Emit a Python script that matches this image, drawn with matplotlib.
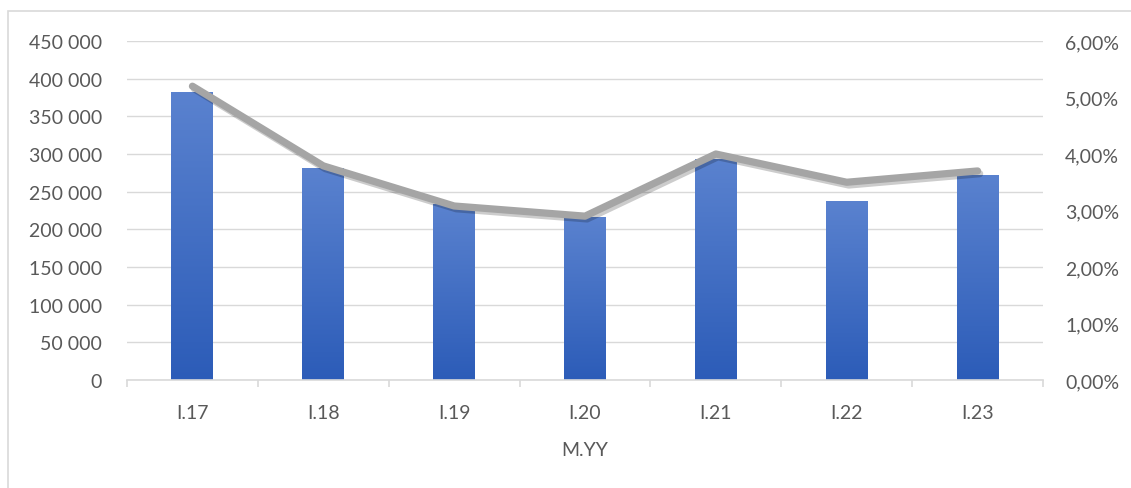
import matplotlib
matplotlib.use("Agg")
import matplotlib.pyplot as plt
import numpy as np
from matplotlib import patheffects as pe
from matplotlib.patches import Rectangle
from matplotlib.colors import LinearSegmentedColormap
from matplotlib.ticker import FuncFormatter, FixedLocator

categories = ["I.17", "I.18", "I.19", "I.20", "I.21", "I.22", "I.23"]
bar_values = [382000, 281000, 233000, 216000, 293000, 237000, 272000]
line_values = [0.0520, 0.0379, 0.0308, 0.0290, 0.0400, 0.0350, 0.0370]
left_ticks = [0, 50000, 100000, 150000, 200000, 250000, 300000, 350000, 400000, 450000]
right_ticks = [0, 0.01, 0.02, 0.03, 0.04, 0.05, 0.06]

plt.rcParams['font.family'] = ['Lato', 'DejaVu Sans']
txt = '#595959'
grid_c = '#d9d9d9'

W, H = 1131, 489
fig = plt.figure(figsize=(W/100, H/100), dpi=100)
ax = fig.add_axes([127/W, 1-381/H, (1043-127)/W, (381-42)/H])
ax2 = ax.twinx()

x = np.arange(len(categories))
bars = ax.bar(x, bar_values, width=0.32, color='#4472c4', zorder=2)
cmap = LinearSegmentedColormap.from_list('g', ['#2c5cb8', '#5a82cf'])
grad = np.linspace(0, 1, 256).reshape(-1, 1)
for b in bars:
    x0, y0 = b.get_x(), b.get_y()
    im = ax.imshow(grad, cmap=cmap, aspect='auto', origin='lower',
                   extent=[x0, x0 + b.get_width(), y0, y0 + b.get_height()], zorder=2)
    im.set_clip_path(b)

ax.set_xlim(-0.5, len(categories) - 0.5)
ax.set_ylim(0, 450000)
ax.yaxis.set_major_locator(FixedLocator(left_ticks))
ax.yaxis.set_major_formatter(FuncFormatter(lambda v, p: f"{int(v):,}".replace(",", " ")))
ax.grid(axis='y', color=grid_c, linewidth=1.0, zorder=0)
ax.set_axisbelow(True)
ax.set_xticks(x)
ax.set_xticklabels(categories)
ax.set_xticks(np.arange(-0.5, len(categories), 1.0), minor=True)
ax.tick_params(axis='x', which='major', length=0, pad=17, labelsize=14, labelcolor=txt)
ax.tick_params(axis='x', which='minor', length=5, color=grid_c, width=1.2)
ax.tick_params(axis='y', length=0, pad=18, labelsize=14, labelcolor=txt)
ax.set_xlabel("M.YY", fontsize=14, color=txt, labelpad=15)

for s in ['top', 'left', 'right']:
    ax.spines[s].set_visible(False)
    ax2.spines[s].set_visible(False)
ax.spines['bottom'].set_color(grid_c)
ax.spines['bottom'].set_linewidth(1.2)
ax2.spines['bottom'].set_visible(False)

ax2.set_ylim(0, 0.06)
ax2.yaxis.set_major_locator(FixedLocator(right_ticks))
ax2.yaxis.set_major_formatter(FuncFormatter(lambda v, p: f"{v*100:.2f}%".replace(".", ",")))
ax2.tick_params(axis='y', length=0, pad=16, labelsize=14, labelcolor=txt)
ax2.plot(x, line_values, color='#a5a5a5', linewidth=5.2, solid_capstyle='round',
         solid_joinstyle='round', zorder=3,
         path_effects=[pe.SimpleLineShadow(offset=(1.5, -2), shadow_color='black', alpha=0.2),
                       pe.Normal()])

fig.patches.append(Rectangle((8/W, -0.05), 1.5, 1 - 12/H + 0.05, transform=fig.transFigure,
                             fill=False, edgecolor=grid_c, linewidth=1.2))

fig.savefig("out.png", dpi=100)
